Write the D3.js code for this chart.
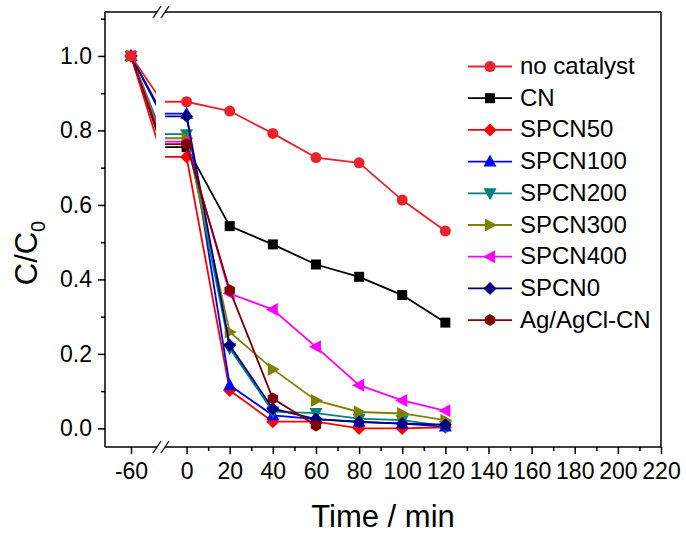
<!DOCTYPE html>
<html>
<head>
<meta charset="utf-8">
<script src="https://cdn.jsdelivr.net/npm/d3@7"></script>
<style>
  body { margin: 0; background: #fff; }
  text { font-family: Arial, "Liberation Sans", sans-serif; fill: #000; }
</style>
</head>
<body>
<svg id="chart" width="686" height="533"></svg>
<script>
// data
const times = [-60, 0, 20, 40, 60, 80, 100, 120]
const seriesNames = ["no catalyst", "CN", "SPCN50", "SPCN100", "SPCN200", "SPCN300", "SPCN400", "SPCN0", "Ag/AgCl-CN"]
const noCatalyst = [1.0, 0.877, 0.852, 0.792, 0.727, 0.713, 0.613, 0.530]
const cn         = [1.0, 0.755, 0.543, 0.494, 0.440, 0.407, 0.358, 0.284]
const spcn50     = [1.0, 0.729, 0.102, 0.018, 0.018, 0.000, 0.000, 0.003]
const spcn100    = [1.0, 0.845, 0.116, 0.035, 0.025, 0.018, 0.013, 0.005]
const spcn200    = [1.0, 0.790, 0.215, 0.045, 0.041, 0.026, 0.022, 0.006]
const spcn300    = [1.0, 0.779, 0.259, 0.159, 0.075, 0.044, 0.040, 0.022]
const spcn400    = [1.0, 0.770, 0.362, 0.319, 0.219, 0.116, 0.075, 0.047]
const spcn0      = [1.0, 0.838, 0.223, 0.053, 0.025, 0.017, 0.013, 0.010]
const agAgclCn   = [1.0, 0.763, 0.371, 0.080, 0.008]
const seriesValues = [noCatalyst, cn, spcn50, spcn100, spcn200, spcn300, spcn400, spcn0, agAgclCn]
const seriesColors = ["#e8232b", "#000000", "#ff0000", "#0000ff", "#008080", "#808000", "#ff00ff", "#000080", "#800000"]
const seriesMarkers = ["circle", "square", "diamond", "triangleUp", "triangleDown", "triangleRight", "triangleLeft", "diamond", "hexagon"]
const xTicksLeft = [-60]
const xTicksRight = [0, 20, 40, 60, 80, 100, 120, 140, 160, 180, 200, 220]
const xMinorRight = [10, 30, 50, 70, 90, 110, 130, 150, 170, 190, 210]
const yTicks = [0, 0.2, 0.4, 0.6, 0.8, 1.0]
const yMinor = [0.1, 0.3, 0.5, 0.7, 0.9, 1.1]

const svg = d3.select("#chart")

// plot frame
const plotLeft = 105, plotRight = 661, plotTop = 12, plotBottom = 447
const breakL = 157, breakR = 165

// broken x axis: two panels
const xL = d3.scaleLinear().domain([-110, -10]).range([plotLeft, breakL])
const xR = d3.scaleLinear().domain([-10, 220]).range([breakR, plotRight])
const y = d3.scaleLinear().domain([-0.05, 1.118]).range([plotBottom, plotTop])

const series = seriesNames.map((name, i) => ({
  name: name,
  color: seriesColors[i],
  marker: seriesMarkers[i],
  points: seriesValues[i].map((v, j) => ({t: times[j], v: v}))
}))

// markers
const poly = pts => "M" + pts.map(p => p.join(",")).join("L") + "Z"
function markerPath(type) {
  if(type === "circle") return d3.symbol(d3.symbolCircle, Math.PI * 5.5 * 5.5)()
  if(type === "square") return poly([[-5, -5], [5, -5], [5, 5], [-5, 5]])
  if(type === "diamond") return poly([[0, -6.5], [6.5, 0], [0, 6.5], [-6.5, 0]])
  if(type === "triangleUp") return poly([[0, -7], [6.5, 5], [-6.5, 5]])
  if(type === "triangleDown") return poly([[0, 7], [6.5, -5], [-6.5, -5]])
  if(type === "triangleRight") return poly([[7, 0], [-5, -6.5], [-5, 6.5]])
  if(type === "triangleLeft") return poly([[-7, 0], [5, -6.5], [5, 6.5]])
  if(type === "hexagon") return poly(d3.range(6).map(k => [6 * Math.cos(Math.PI / 3 * k + Math.PI / 6), 6 * Math.sin(Math.PI / 3 * k + Math.PI / 6)]))
}

const defs = svg.append("defs")
defs.append("clipPath").attr("id", "clipL")
  .append("rect").attr("x", plotLeft).attr("y", 0).attr("width", breakL - plotLeft - 1).attr("height", 533)
defs.append("clipPath").attr("id", "clipR")
  .append("rect").attr("x", breakR).attr("y", 0).attr("width", plotRight - breakR).attr("height", 533)

const gLeft = svg.append("g")
const gRight = svg.append("g")

const lineL = d3.line().x(d => xL(d.t)).y(d => y(d.v))
const lineR = d3.line().x(d => xR(d.t)).y(d => y(d.v))

// no catalyst last so its -60 marker sits on top
const drawOrder = [1, 2, 3, 4, 5, 6, 7, 8, 0]

drawOrder.forEach(i => {
  let s = series[i]
  let first = s.points[0]
  let second = s.points[1]
  // left panel: -60 -> 0 segment, clipped at the break
  gLeft.append("path")
    .attr("clip-path", "url(#clipL)")
    .attr("d", lineL([first, second]))
    .attr("fill", "none").attr("stroke", s.color).attr("stroke-width", 1.8)
  // right panel: enters from the break edge
  let rightPts = [{t: xR.domain()[0], v: second.v}].concat(s.points.slice(1))
  gRight.append("path")
    .attr("clip-path", "url(#clipR)")
    .attr("d", lineR(rightPts))
    .attr("fill", "none").attr("stroke", s.color).attr("stroke-width", 1.8)
  gRight.selectAll(null)
    .data(s.points.slice(1))
    .enter().append("path")
    .attr("d", markerPath(s.marker))
    .attr("transform", d => "translate(" + xR(d.t) + "," + y(d.v) + ")")
    .attr("fill", s.color)
  gLeft.append("path")
    .attr("d", markerPath(s.marker))
    .attr("transform", "translate(" + xL(first.t) + "," + y(first.v) + ")")
    .attr("fill", s.color)
})

// axes
const axisG = svg.append("g").attr("stroke", "#000").attr("stroke-width", 1.5)
axisG.append("line").attr("x1", plotLeft).attr("x2", plotLeft).attr("y1", plotTop).attr("y2", plotBottom)
axisG.append("line").attr("x1", plotRight).attr("x2", plotRight).attr("y1", plotTop).attr("y2", plotBottom)
;[plotTop, plotBottom].forEach(yy => {
  axisG.append("line").attr("x1", plotLeft).attr("x2", breakL).attr("y1", yy).attr("y2", yy)
  axisG.append("line").attr("x1", breakR).attr("x2", plotRight).attr("y1", yy).attr("y2", yy)
  // break marks
  ;[breakL, breakR].forEach(xx => {
    axisG.append("line")
      .attr("x1", xx - 4).attr("y1", yy + 6)
      .attr("x2", xx + 4).attr("y2", yy - 6)
      .attr("stroke-width", 1.3)
  })
})

function styleAxis(g) {
  g.select(".domain").remove()
  g.selectAll(".tick line").attr("stroke", "#000").attr("stroke-width", 1.5)
  g.selectAll("text").style("font-size", "23px")
}

// plain hyphen for negatives, like the original
const intLabel = d => String(d)

svg.append("g").attr("transform", "translate(0," + plotBottom + ")")
  .call(d3.axisBottom(xL).tickValues(xTicksLeft).tickSize(7).tickPadding(9).tickFormat(intLabel))
  .call(styleAxis)
svg.append("g").attr("transform", "translate(0," + plotBottom + ")")
  .call(d3.axisBottom(xR).tickValues(xTicksRight).tickSize(7).tickPadding(9).tickFormat(intLabel))
  .call(styleAxis)
svg.append("g").attr("transform", "translate(0," + plotBottom + ")")
  .call(d3.axisBottom(xR).tickValues(xMinorRight).tickSize(4).tickFormat(""))
  .call(styleAxis)
svg.append("g").attr("transform", "translate(" + plotLeft + ",0)")
  .call(d3.axisLeft(y).tickValues(yTicks).tickSize(7).tickPadding(6).tickFormat(d3.format(".1f")))
  .call(styleAxis)
svg.append("g").attr("transform", "translate(" + plotLeft + ",0)")
  .call(d3.axisLeft(y).tickValues(yMinor).tickSize(4).tickFormat(""))
  .call(styleAxis)

// axis titles
svg.append("text")
  .attr("x", (plotLeft + plotRight) / 2).attr("y", 527)
  .attr("text-anchor", "middle")
  .style("font-size", "31px")
  .text("Time / min")

let yTitle = svg.append("text")
  .attr("transform", "translate(37,253) rotate(-90)")
  .attr("text-anchor", "middle")
  .style("font-size", "31px")
yTitle.append("tspan").text("C/C")
yTitle.append("tspan").attr("dy", 8).style("font-size", "20px").text("0")

// legend
const legend = svg.append("g")
series.forEach((s, i) => {
  let cy = 66.5 + i * 31.7
  legend.append("line")
    .attr("x1", 468).attr("x2", 512).attr("y1", cy).attr("y2", cy)
    .attr("stroke", s.color).attr("stroke-width", 1.8)
  legend.append("path")
    .attr("d", markerPath(s.marker))
    .attr("transform", "translate(490," + cy + ")")
    .attr("fill", s.color)
  legend.append("text")
    .attr("x", 520).attr("y", cy + 7.5)
    .style("font-size", "24px")
    .text(s.name)
})
</script>
</body>
</html>
